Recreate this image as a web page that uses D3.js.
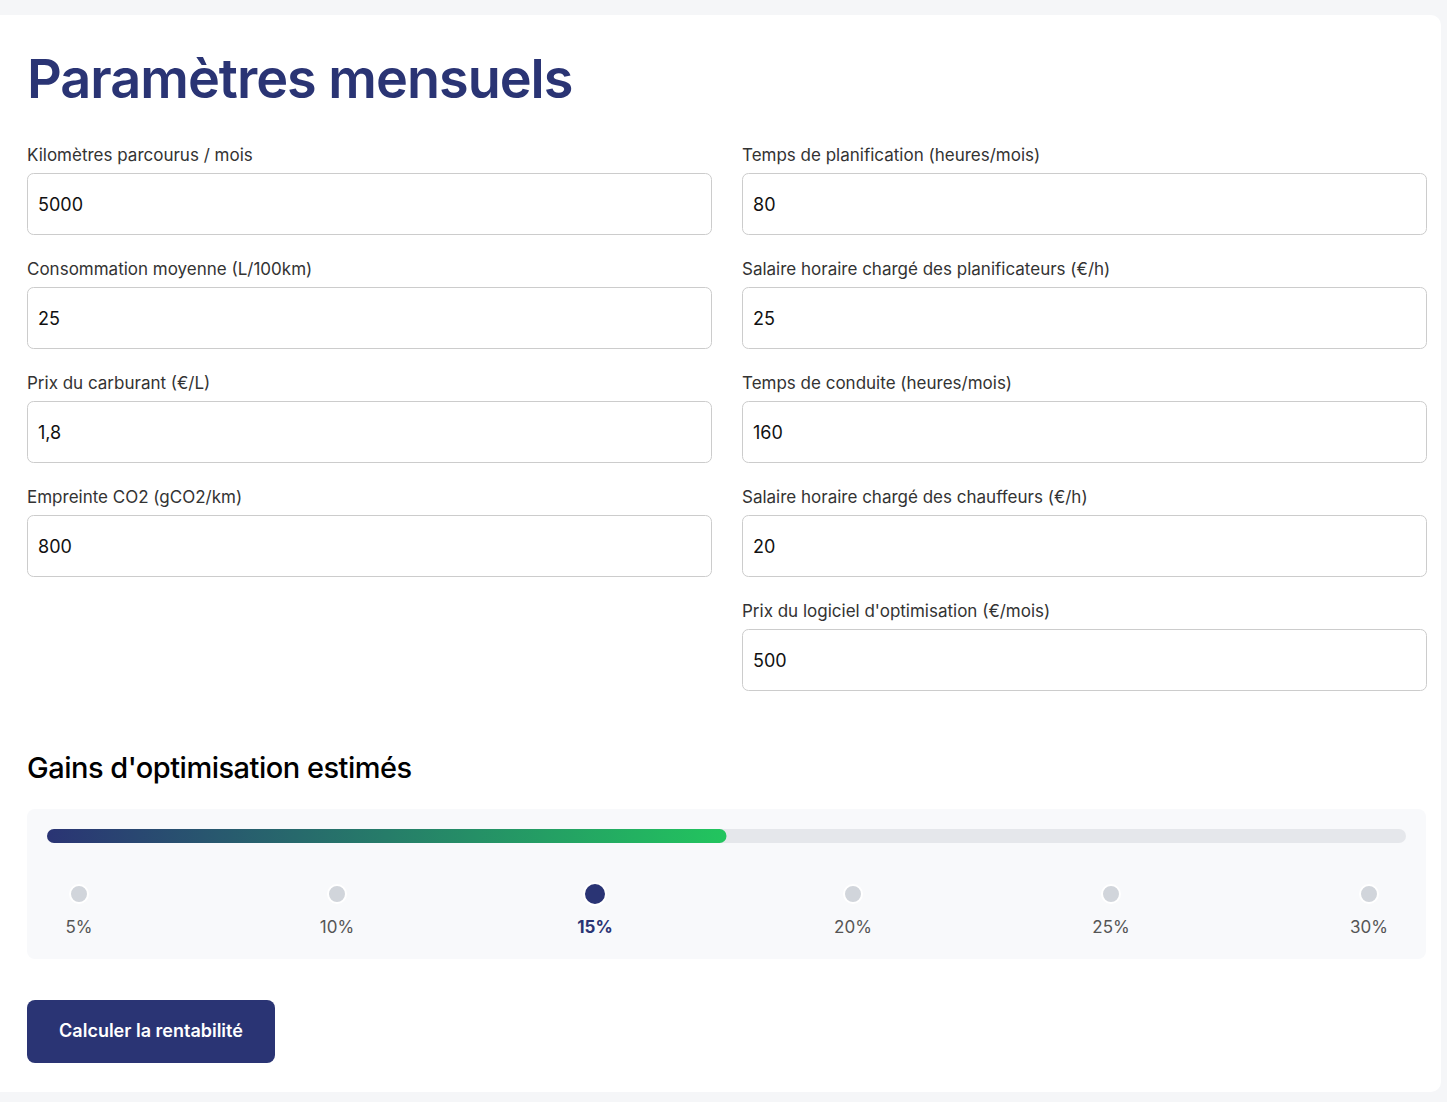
<!DOCTYPE html>
<html><head><meta charset="utf-8">
<script src="https://cdn.jsdelivr.net/npm/d3@7"></script>
<style>body{margin:0;background:#f5f6f8;}svg{display:block;font-family:Inter,"Noto Sans",sans-serif;}</style>
</head><body><svg id="c" width="1447" height="1102"></svg>
<script>
const leftLabels=["Kilomètres parcourus / mois","Consommation moyenne (L/100km)","Prix du carburant (€/L)","Empreinte CO2 (gCO2/km)"];
const leftValues=["5000","25","1,8","800"];
const rightLabels=["Temps de planification (heures/mois)","Salaire horaire chargé des planificateurs (€/h)","Temps de conduite (heures/mois)","Salaire horaire chargé des chauffeurs (€/h)","Prix du logiciel d'optimisation (€/mois)"];
const rightValues=["80","25","160","20","500"];
const gainLabels=["5%","10%","15%","20%","25%","30%"];
const selected="15%";
const progress=0.5;

const svg=d3.select("#c");
const defs=svg.append("defs");
const g=defs.append("linearGradient").attr("id","gr");
g.append("stop").attr("offset","0%").attr("stop-color","#2a3474");
g.append("stop").attr("offset","100%").attr("stop-color","#22c55e");
svg.append("rect").attr("x",0).attr("y",0).attr("width",1447).attr("height",1102).attr("fill","#f5f6f8");
svg.append("rect").attr("x",-10).attr("y",15).attr("width",1451).attr("height",1077).attr("rx",10).attr("fill","#fff");
svg.append("text").attr("x",27).attr("y",98).attr("font-size",54).attr("font-weight",600).attr("fill","#2a3474").attr("letter-spacing",-1).text("Paramètres mensuels");
const row=d3.scaleLinear().domain([0,1]).range([0,114]);
function col(labels,values,x){
  labels.forEach((l,i)=>{
    const y=row(i);
    svg.append("text").attr("x",x).attr("y",161+y).attr("font-size",17).attr("fill","#333").text(l);
    svg.append("rect").attr("x",x+0.5).attr("y",173.5+y).attr("width",684).attr("height",61).attr("rx",6).attr("fill","#fff").attr("stroke","#ccc");
    svg.append("text").attr("x",x+11).attr("y",211+y).attr("font-size",18).attr("fill","#111").text(values[i]);
  });
}
col(leftLabels,leftValues,27);
col(rightLabels,rightValues,742);
svg.append("text").attr("x",27).attr("y",778).attr("font-size",29).attr("font-weight",500).attr("fill","#000").attr("letter-spacing",-0.5).text("Gains d'optimisation estimés");
svg.append("rect").attr("x",27).attr("y",809).attr("width",1399).attr("height",150).attr("rx",8).attr("fill","#f8f9fb");
const tx=d3.scaleLinear().domain([0,1]).range([47,1406]);
svg.append("rect").attr("x",tx(0)).attr("y",829).attr("width",tx(1)-tx(0)).attr("height",14).attr("rx",7).attr("fill","#e5e7eb");
svg.append("rect").attr("x",tx(0)).attr("y",829).attr("width",tx(progress)-tx(0)).attr("height",14).attr("rx",7).attr("fill","url(#gr)");
const px=d3.scalePoint().domain(gainLabels).range([79,1369]);
gainLabels.forEach(l=>{
  const s=l===selected;
  svg.append("circle").attr("cx",px(l)).attr("cy",894).attr("r",s?11:9).attr("fill",s?"#2a3474":"#d1d5db").attr("stroke","#fff").attr("stroke-width",2);
  svg.append("text").attr("x",px(l)).attr("y",933).attr("text-anchor","middle").attr("font-size",17).attr("font-weight",s?700:400).attr("fill",s?"#2a3474":"#555").text(l);
});
svg.append("rect").attr("x",27).attr("y",1000).attr("width",248).attr("height",63).attr("rx",8).attr("fill","#2a3474");
svg.append("text").attr("x",151).attr("y",1037).attr("text-anchor","middle").attr("font-size",18).attr("font-weight",600).attr("fill","#fff").text("Calculer la rentabilité");
</script></body></html>
